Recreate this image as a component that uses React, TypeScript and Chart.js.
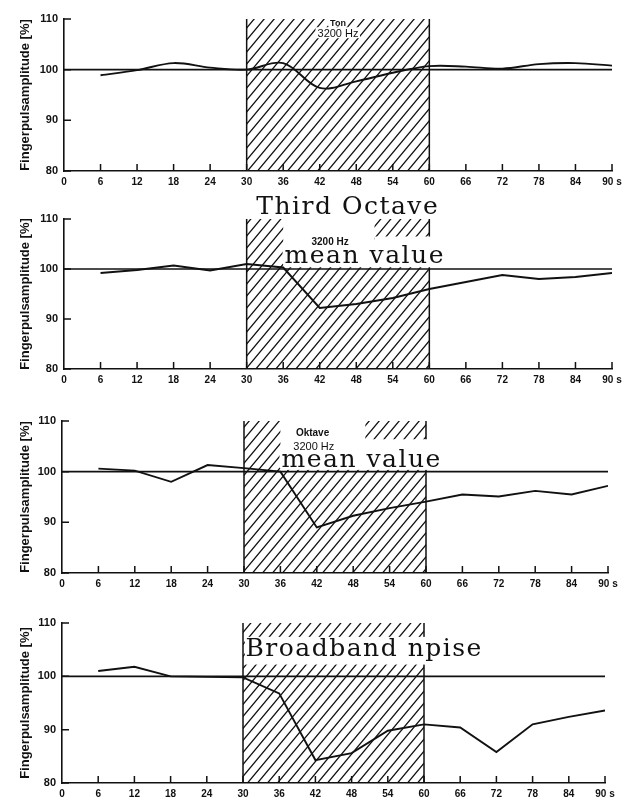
import React, { useEffect, useRef } from 'react';
import { Chart, registerables } from 'chart.js';

Chart.register(...registerables);

// ---------- data ----------
const times = [6, 12, 18, 24, 30, 36, 42, 48, 54, 60, 66, 72, 78, 84, 90];
const tonValues = [98.9, 99.9, 101.3, 100.4, 100.0, 101.3, 96.4, 97.7, 99.4, 100.7, 100.6, 100.2, 101.1, 101.3, 100.8];
const thirdOctaveValues = [99.2, 99.8, 100.7, 99.7, 101.0, 100.3, 92.2, 93.0, 94.2, 96.0, 97.4, 98.8, 98.0, 98.4, 99.2];
const octaveValues = [100.6, 100.2, 98.0, 101.3, 100.7, 100.0, 89.0, 91.3, 92.8, 94.1, 95.5, 95.1, 96.2, 95.5, 97.2];
const broadbandValues = [101.0, 101.8, 100.0, 99.9, 99.8, 96.8, 84.3, 85.6, 89.8, 91.0, 90.4, 85.8, 91.0, 92.4, 93.6];
const referenceTimes = [0, 90];
const referenceValues = [100, 100];
const xTickValues = [0, 6, 12, 18, 24, 30, 36, 42, 48, 54, 60, 66, 72, 78, 84, 90];
const xTickLabels = ['0', '6', '12', '18', '24', '30', '36', '42', '48', '54', '60', '66', '72', '78', '84', '90 s'];
const yTickValues = [80, 90, 100, 110];
const stimulusStart = 30;
const stimulusEnd = 60;
const yAxisTitle = 'Fingerpulsamplitude [%]';

const INK = '#111';
const SANS = '"Liberation Sans", Arial, sans-serif';
const SLAB = '"DejaVu Serif", serif';

type Box = { x0: number; x1: number; y0: number; y1: number };
type Label = {
  text: string; x: number; y: number; font: string;
  align?: CanvasTextAlign; baseline?: CanvasTextBaseline; bg?: boolean; spacing?: string;
};
type PanelCfg = {
  top: number; height: number; areaTop: number; xAxisH: number; yAxisW: number; padRight: number;
  values: number[]; tension: number; boxes: Box[]; labels: Label[];
};

const BIG = `25px ${SLAB}`;

const panels: PanelCfg[] = [
  {
    top: 0, height: 196, areaTop: 19, xAxisH: 25, yAxisW: 64, padRight: 16,
    values: tonValues, tension: 0.35,
    boxes: [],
    labels: [
      { text: 'Ton', x: 45, y: 109.2, font: `bold 9px ${SANS}`, bg: true },
      { text: '3200 Hz', x: 45, y: 107.0, font: `11px ${SANS}`, bg: true },
    ],
  },
  {
    top: 196, height: 200, areaTop: 23, xAxisH: 27, yAxisW: 64, padRight: 16,
    values: thirdOctaveValues, tension: 0,
    boxes: [
      { x0: 36, x1: 51, y0: 100.35, y1: 111 },
      { x0: 51, x1: 60.6, y0: 100.35, y1: 106.5 },
    ],
    labels: [
      { text: 'Third Octave', x: 46.6, y: 112.4, font: BIG, spacing: '1.5px' },
      { text: '3200 Hz', x: 43.7, y: 105.3, font: `bold 10px ${SANS}` },
      { text: 'mean value', x: 49.4, y: 101.2, font: BIG, baseline: 'alphabetic', bg: true, spacing: '1.5px' },
    ],
  },
  {
    top: 396, height: 204, areaTop: 25, xAxisH: 27, yAxisW: 62, padRight: 20,
    values: octaveValues, tension: 0,
    boxes: [
      { x0: 36, x1: 50, y0: 100.35, y1: 111 },
      { x0: 50, x1: 60.6, y0: 100.35, y1: 106.4 },
    ],
    labels: [
      { text: 'Oktave', x: 41.3, y: 107.6, font: `bold 10px ${SANS}` },
      { text: '3200 Hz', x: 41.5, y: 104.9, font: `11px ${SANS}` },
      { text: 'mean value', x: 49.4, y: 100.9, font: BIG, baseline: 'alphabetic', bg: true, spacing: '1.5px' },
    ],
  },
  {
    top: 600, height: 205, areaTop: 23, xAxisH: 22, yAxisW: 62, padRight: 23,
    values: broadbandValues, tension: 0,
    boxes: [{ x0: 30.3, x1: 60.6, y0: 102.2, y1: 107.4 }],
    labels: [
      { text: 'Broadband npise', x: 30.4, y: 103.8, font: BIG, align: 'left', baseline: 'alphabetic', spacing: '1.5px' },
    ],
  },
];

function makeHatch(): CanvasPattern | string {
  const c = document.createElement('canvas');
  c.width = 10;
  c.height = 12;
  const g = c.getContext('2d');
  if (!g) return INK;
  g.strokeStyle = INK;
  g.lineWidth = 1.3;
  g.beginPath();
  g.moveTo(-1, 13.2); g.lineTo(11, -1.2);
  g.moveTo(-1, 1.2); g.lineTo(1, -1.2);
  g.moveTo(9, 13.2); g.lineTo(11, 10.8);
  g.stroke();
  const p = g.createPattern(c, 'repeat');
  return p || INK;
}

function setText(ctx: any, l: Label) {
  ctx.font = l.font;
  ctx.textAlign = l.align || 'center';
  ctx.textBaseline = l.baseline || 'middle';
  try { ctx.letterSpacing = l.spacing || '0px'; } catch (e) { /* ignore */ }
}

function makeDecor(cfg: PanelCfg) {
  return {
    id: 'panelDecor',
    beforeDatasetsDraw(chart: any) {
      const { ctx } = chart;
      const x = chart.scales.x;
      const y = chart.scales.y;
      ctx.save();
      // stimulus hatch
      const x0 = x.getPixelForValue(stimulusStart);
      const x1 = x.getPixelForValue(stimulusEnd);
      const yT = y.getPixelForValue(110);
      const yB = y.getPixelForValue(80);
      ctx.fillStyle = makeHatch();
      ctx.fillRect(x0, yT, x1 - x0, yB - yT);
      ctx.strokeStyle = INK;
      ctx.lineWidth = 1.5;
      ctx.beginPath();
      ctx.moveTo(x0, yT); ctx.lineTo(x0, yB);
      ctx.moveTo(x1, yT); ctx.lineTo(x1, yB);
      ctx.stroke();
      // pasted-over white boxes
      ctx.fillStyle = '#fff';
      for (const b of cfg.boxes) {
        const bx0 = x.getPixelForValue(b.x0);
        const bx1 = x.getPixelForValue(b.x1);
        const by0 = y.getPixelForValue(b.y1);
        const by1 = y.getPixelForValue(b.y0);
        ctx.fillRect(bx0, by0, bx1 - bx0, by1 - by0);
      }
      // label backgrounds first
      for (const l of cfg.labels) {
        if (!l.bg) continue;
        setText(ctx, l);
        const px = x.getPixelForValue(l.x);
        const py = y.getPixelForValue(l.y);
        const m = ctx.measureText(l.text);
        const left = px - m.actualBoundingBoxLeft - 2;
        const w = m.actualBoundingBoxLeft + m.actualBoundingBoxRight + 4;
        const top = py - m.actualBoundingBoxAscent - 2;
        const h = m.actualBoundingBoxAscent + m.actualBoundingBoxDescent + 3;
        ctx.fillStyle = '#fff';
        ctx.fillRect(left, top, w, h);
      }
      // label texts
      for (const l of cfg.labels) {
        setText(ctx, l);
        ctx.fillStyle = INK;
        ctx.fillText(l.text, x.getPixelForValue(l.x), y.getPixelForValue(l.y));
      }
      try { ctx.letterSpacing = '0px'; } catch (e) { /* ignore */ }
      // inward tick marks
      ctx.strokeStyle = INK;
      ctx.lineWidth = 1.5;
      ctx.beginPath();
      for (const v of yTickValues) {
        const py = y.getPixelForValue(v);
        ctx.moveTo(x.left, py);
        ctx.lineTo(x.left + 7, py);
      }
      for (const v of xTickValues) {
        if (v === 0) continue;
        const px = x.getPixelForValue(v);
        ctx.moveTo(px, y.bottom);
        ctx.lineTo(px, y.bottom - 7);
      }
      ctx.stroke();
      ctx.restore();
    },
  };
}

function Panel({ cfg }: { cfg: PanelCfg }) {
  const ref = useRef<HTMLCanvasElement>(null);
  useEffect(() => {
    if (!ref.current) return;
    const chart = new Chart(ref.current, {
      type: 'line',
      data: {
        datasets: [
          {
            data: referenceTimes.map((t, i) => ({ x: t, y: referenceValues[i] })),
            borderColor: INK,
            borderWidth: 1.6,
            pointRadius: 0,
            tension: 0,
          },
          {
            data: times.map((t, i) => ({ x: t, y: cfg.values[i] })),
            borderColor: INK,
            borderWidth: 1.9,
            pointRadius: 0,
            tension: cfg.tension,
          },
        ],
      },
      options: {
        animation: false,
        responsive: false,
        events: [],
        layout: { padding: { top: cfg.areaTop, right: cfg.padRight, left: 0, bottom: 0 } },
        plugins: { legend: { display: false }, tooltip: { enabled: false }, title: { display: false } },
        scales: {
          x: {
            type: 'linear',
            min: 0,
            max: 90,
            grid: { display: false, drawTicks: false },
            border: { display: true, color: INK, width: 1.6 },
            afterBuildTicks: (s: any) => { s.ticks = xTickValues.map((v) => ({ value: v })); },
            ticks: {
              autoSkip: false,
              maxRotation: 0,
              padding: 5,
              color: INK,
              font: { family: SANS, size: 10, weight: 'bold' },
              callback: (v: any) => {
                const i = xTickValues.indexOf(Number(v));
                return i >= 0 ? xTickLabels[i] : '';
              },
            },
            afterFit: (s: any) => {
              s.height = cfg.xAxisH;
              s.paddingLeft = 0;
              s.paddingRight = 0;
            },
          },
          y: {
            type: 'linear',
            min: 80,
            max: 110,
            grid: { display: false, drawTicks: false },
            border: { display: true, color: INK, width: 1.6 },
            afterBuildTicks: (s: any) => { s.ticks = yTickValues.map((v) => ({ value: v })); },
            ticks: {
              padding: 6,
              color: INK,
              font: { family: SANS, size: 11, weight: 'bold' },
            },
            title: {
              display: true,
              text: yAxisTitle,
              color: INK,
              padding: { top: 18, bottom: 0 },
              font: { family: SANS, size: 13, weight: 'bold' },
            },
            afterFit: (s: any) => {
              s.width = cfg.yAxisW;
              s.paddingTop = 0;
              s.paddingBottom = 0;
            },
          },
        },
      },
      plugins: [makeDecor(cfg)],
    } as any);
    return () => chart.destroy();
  }, [cfg]);
  return (
    <canvas
      ref={ref}
      width={628}
      height={cfg.height}
      style={{ position: 'absolute', left: 0, top: cfg.top, display: 'block' }}
    />
  );
}

export default function App() {
  return (
    <div style={{ position: 'absolute', left: 0, top: 0, width: 628, height: 805, background: '#fff' }}>
      {panels.map((p, i) => (
        <Panel key={i} cfg={p} />
      ))}
    </div>
  );
}
